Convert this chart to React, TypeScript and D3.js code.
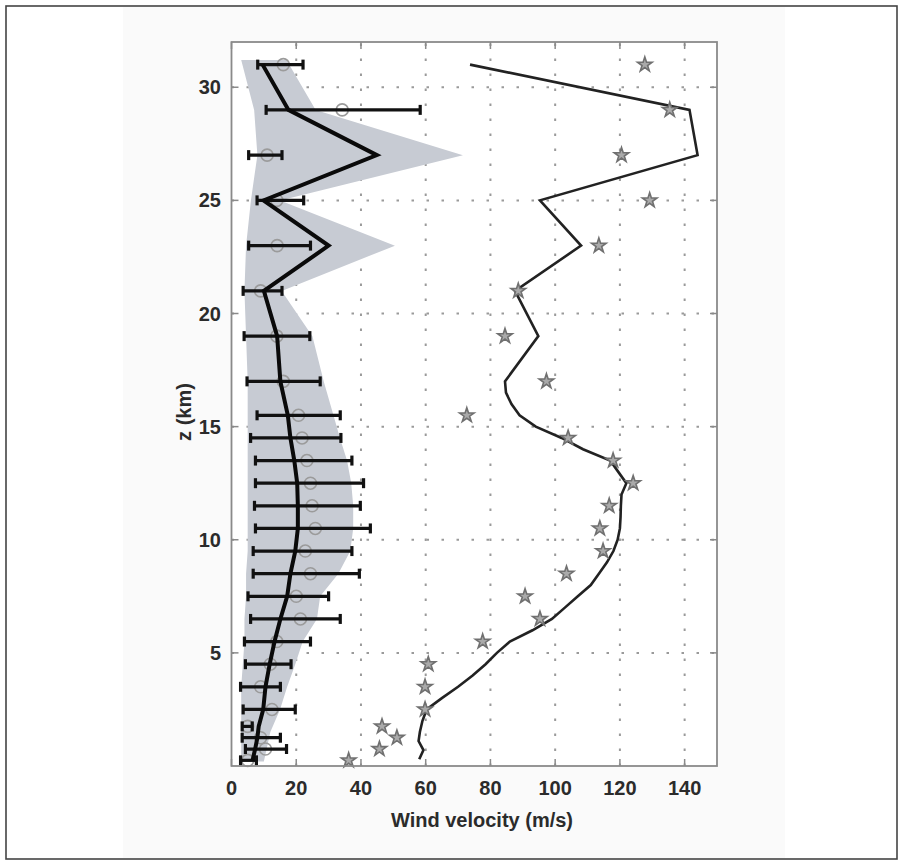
import React from "react";
import * as d3 from "d3";

// ---- data ----
const xTicks = [0, 20, 40, 60, 80, 100, 120, 140];
const yTicks = [5, 10, 15, 20, 25, 30];

// observation profile: altitude levels, error bar bounds, sample centres
const obsZ = [31, 29, 27, 25, 23, 21, 19, 17, 15.5, 14.5, 13.5, 12.5, 11.5, 10.5, 9.5, 8.5, 7.5, 6.5, 5.5, 4.5, 3.5, 2.5, 1.75, 1.25, 0.75, 0.25];
const obsLo = [8.1, 10.7, 5.3, 7.9, 5.3, 3.6, 3.9, 4.8, 7.9, 5.9, 7.4, 7.4, 7.1, 7.4, 6.7, 6.7, 5.1, 5.9, 4.0, 4.3, 2.8, 3.6, 3.3, 3.3, 4.3, 2.8];
const obsHi = [22.1, 58.3, 15.6, 22.3, 24.4, 15.6, 24.2, 27.4, 33.6, 33.8, 37.2, 40.8, 39.8, 42.9, 37.2, 39.5, 30.0, 33.6, 24.4, 18.4, 15.1, 19.7, 6.4, 15.1, 17.0, 7.7];
const obsCentre = [16, 34.2, 11, 14, 14.1, 9, 14, 16, 20.7, 21.8, 23.3, 24.4, 24.9, 25.9, 22.8, 24.4, 20, 21.3, 14, 12, 9, 12.5, 5, 9, 10.5, 5];

// ensemble mean profile
const meanZ = [31, 29, 27, 25, 23, 21, 19, 17, 15.5, 14.5, 13.5, 12.5, 11.5, 10.5, 9.5, 8.5, 7.5, 6.5, 5.5, 4.5, 3.5, 2.5, 1.75, 1.25, 0.75, 0.25];
const meanU = [9.6, 17.6, 44.9, 9.9, 30, 10, 14.1, 15.1, 17.4, 18.2, 19.4, 20.3, 20.5, 20.5, 19.7, 18.2, 17.2, 15.1, 13.3, 11.8, 10.5, 9.8, 8.4, 8.0, 7.3, 6.5];

// ensemble spread band
const bandZ = [31.2, 29, 27, 25, 23, 21, 19, 17, 15.5, 14.5, 13.5, 12.5, 11.5, 10.5, 9.5, 8.5, 7.5, 6.5, 5.5, 4.5, 3.5, 2.5, 1.5, 0.2];
const bandLo = [3, 7, 8, 6, 4.5, 4, 4.5, 5, 5, 5, 5, 5, 5, 5, 5, 4.5, 4.5, 4, 4, 3.5, 3, 3, 3, 3];
const bandHi = [17, 26, 71.5, 15, 50.5, 15.5, 25, 28.5, 31.5, 33.5, 35.7, 37, 37.6, 37.6, 36.7, 33, 27.4, 26.4, 22, 19.7, 17.2, 15, 12, 10];

// model profile (thin line)
const modelZ = [31, 29, 27, 25, 23, 21, 19, 17, 16.5, 16, 15.5, 15, 14.5, 14, 13.5, 13, 12.5, 12, 11.5, 11, 10.5, 10, 9.5, 9, 8.5, 8, 7.5, 7, 6.5, 6, 5.5, 5, 4.5, 4, 3.5, 3, 2.5, 2, 1.5, 1.1, 0.7, 0.3];
const modelU = [73.7, 141.5, 144, 95.3, 108, 87.6, 94.8, 84.5, 84.8, 86.5, 89, 94, 102, 108.6, 117, 119.5, 122, 120.5, 120.3, 120.2, 120, 119.3, 118, 116, 113.5, 111, 107, 103, 99, 93, 86, 82, 78.5, 74.5, 70, 65, 60.3, 59, 58.2, 57.8, 59.3, 58];

// radiosonde stars
const starZ = [31, 29, 27, 25, 23, 21, 19, 17, 15.5, 14.5, 13.5, 12.5, 11.5, 10.5, 9.5, 8.5, 7.5, 6.5, 5.5, 4.5, 3.5, 2.5, 1.75, 1.25, 0.75, 0.25];
const starU = [127.7, 135.4, 120.5, 129.2, 113.5, 88.6, 84.5, 97.3, 72.7, 104, 117.9, 124.1, 116.7, 113.8, 114.8, 103.5, 90.7, 95.3, 77.6, 60.8, 59.8, 59.8, 46.5, 51.1, 45.7, 36.2];

const W = 903;
const H = 865;

export default function App() {
  const x = d3.scaleLinear().domain([0, 150]).range([231.5, 717]);
  const y = d3.scaleLinear().domain([0, 32]).range([766, 42]);
  const x0 = x(0), x1 = x(150), y0 = y(0), y1 = y(32);

  const band = d3
    .area<number>()
    .y((_, i) => y(bandZ[i]))
    .x0((_, i) => x(bandLo[i]))
    .x1((_, i) => x(bandHi[i]))(bandZ.map((_, i) => i));

  const meanPath = d3
    .line<number>()
    .x((i) => x(meanU[i]))
    .y((i) => y(meanZ[i]))(meanZ.map((_, i) => i));

  const modelPath = d3
    .line<number>()
    .x((i) => x(modelU[i]))
    .y((i) => y(modelZ[i]))(modelZ.map((_, i) => i));

  const star = d3.symbol().type(d3.symbolStar).size(66)();

  const font = "'Liberation Sans', Arial, sans-serif";
  const tickLen = 7;

  return (
    <svg width={W} height={H} style={{ position: "absolute", left: 0, top: 0 }}>
      <rect x={0} y={0} width={W} height={H} fill="#fff" />
      <rect x={123} y={7} width={662} height={851} fill="#fafafa" />
      <rect x={6} y={6} width={891} height={853} fill="none" stroke="#444" strokeWidth={1.6} />

      {/* plot background */}
      <rect x={x0} y={y1} width={x1 - x0} height={y0 - y1} fill="#fff" />

      {/* grid */}
      <g stroke="#9a9a9a" strokeWidth={2} strokeDasharray="2.5 12.5">
        {xTicks.slice(1).map((t) => (
          <line key={"gx" + t} x1={x(t)} x2={x(t)} y1={y0} y2={y1} />
        ))}
        {yTicks.map((t) => (
          <line key={"gy" + t} x1={x0} x2={x1} y1={y(t)} y2={y(t)} />
        ))}
      </g>

      {/* spread band */}
      <path d={band ?? ""} fill="#c7cbd3" stroke="none" />

      {/* sample centres */}
      {obsZ.map((z, i) => (
        <circle key={"c" + i} cx={x(obsCentre[i])} cy={y(z)} r={6} fill="none" stroke="#9b9b9b" strokeWidth={1.6} />
      ))}

      {/* error bars */}
      <g stroke="#111" strokeWidth={3.2}>
        {obsZ.map((z, i) => (
          <g key={"e" + i}>
            <line x1={x(obsLo[i])} x2={x(obsHi[i])} y1={y(z)} y2={y(z)} />
            <line x1={x(obsLo[i])} x2={x(obsLo[i])} y1={y(z) - 5} y2={y(z) + 5} />
            <line x1={x(obsHi[i])} x2={x(obsHi[i])} y1={y(z) - 5} y2={y(z) + 5} />
          </g>
        ))}
      </g>

      {/* mean line */}
      <path d={meanPath ?? ""} fill="none" stroke="#0a0a0a" strokeWidth={4} strokeLinejoin="miter" />

      {/* model line */}
      <path d={modelPath ?? ""} fill="none" stroke="#222" strokeWidth={2.6} strokeLinejoin="miter" />

      {/* stars */}
      {starZ.map((z, i) => (
        <path
          key={"s" + i}
          d={star ?? ""}
          transform={`translate(${x(starU[i])},${y(z)})`}
          fill="#aaaaaa"
          stroke="#707070"
          strokeWidth={1.6}
        />
      ))}

      {/* frame */}
      <rect x={x0} y={y1} width={x1 - x0} height={y0 - y1} fill="none" stroke="#8a8a8a" strokeWidth={1.8} />

      {/* ticks */}
      <g stroke="#8a8a8a" strokeWidth={1.5}>
        {xTicks.map((t) => (
          <g key={"tx" + t}>
            <line x1={x(t)} x2={x(t)} y1={y0} y2={y0 - tickLen} />
            <line x1={x(t)} x2={x(t)} y1={y1} y2={y1 + tickLen} />
          </g>
        ))}
        {yTicks.map((t) => (
          <g key={"ty" + t}>
            <line x1={x0} x2={x0 + tickLen} y1={y(t)} y2={y(t)} />
            <line x1={x1} x2={x1 - tickLen} y1={y(t)} y2={y(t)} />
          </g>
        ))}
      </g>

      {/* tick labels */}
      <g fontFamily={font} fontWeight="bold" fontSize={20} fill="#2b2b2b">
        {xTicks.map((t) => (
          <text key={"lx" + t} x={x(t)} y={795} textAnchor="middle">
            {t}
          </text>
        ))}
        {yTicks.map((t) => (
          <text key={"ly" + t} x={221} y={y(t) + 7} textAnchor="end">
            {t}
          </text>
        ))}
        <text x={482} y={827} textAnchor="middle">
          Wind velocity (m/s)
        </text>
        <text transform={`translate(191,412) rotate(-90)`} textAnchor="middle">
          z (km)
        </text>
      </g>
    </svg>
  );
}
